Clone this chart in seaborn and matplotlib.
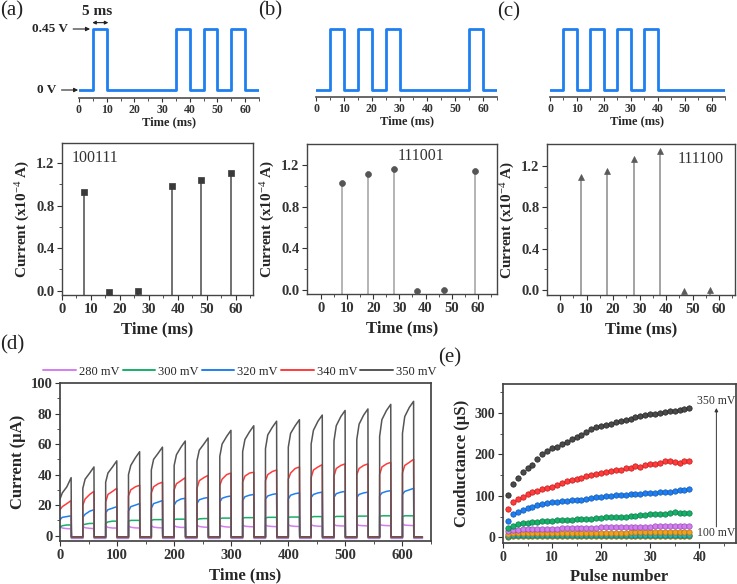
import numpy as np
import pandas as pd
import matplotlib
matplotlib.use("Agg")
import matplotlib.pyplot as plt
import seaborn as sns

# ---------------- data ----------------
codes = ["100111", "111001", "111100"]
wave_end = 65

a_time = [7.7, 16.4, 26.4, 38.0, 48.0, 58.3]
a_cur = [0.93, -0.01, 0.0, 0.985, 1.04, 1.105]
b_time = [8.0, 18.1, 28.0, 36.9, 47.0, 58.8]
b_cur = [1.03, 1.115, 1.16, -0.01, 0.0, 1.145]
c_time = [7.9, 17.9, 27.9, 37.9, 46.9, 56.6]
c_cur = [1.09, 1.155, 1.27, 1.345, -0.01, 0.0]

d_labels = ["280 mV", "300 mV", "320 mV", "340 mV", "350 mV"]
d_colors = ["#d27ef0", "#16b06a", "#1f7ff0", "#ff3b3b", "#555555"]
pulse_starts = [0, 40, 80, 120, 160, 200, 240, 280, 320, 360, 400, 440, 480, 520, 560, 600]
pulse_width = 20
sample_offsets = [0, 4, 12, 19.5]   # times within a pulse where values were read
d_off = [-1.8, -1.2, -1.0, -1.0, -0.8]
d_280 = [[6, 5, 4.6, 4.5], [6, 5.2, 4.8, 4.6], [6.3, 5.4, 5, 5], [6.4, 5.5, 5.1, 5], [6.5, 5.6, 5.2, 5.1],
         [6.6, 5.8, 5.4, 5.4], [6.8, 6, 5.6, 5.5], [6.9, 6.1, 5.7, 5.6], [7, 6.2, 5.9, 5.8], [7, 6.3, 6, 5.9],
         [7.1, 6.4, 6.1, 6], [7.2, 6.5, 6.2, 6.1], [7.3, 6.6, 6.4, 6.3], [7.4, 6.7, 6.5, 6.4], [7.5, 6.8, 6.6, 6.5],
         [7.6, 6.9, 6.7, 6.6]]
d_300 = [[5.5, 6.5, 7, 7], [7, 7.5, 8, 8], [8, 9, 9.5, 9.5], [9.5, 10, 10, 10], [10, 10.5, 10.5, 10.5],
         [10.5, 10.8, 10.8, 10.8], [10.5, 11, 11.2, 11.2], [11, 11.5, 11.5, 11.5], [11.5, 11.8, 11.8, 11.8],
         [11.5, 12, 12, 12], [12, 12.2, 12.2, 12.2], [12, 12.5, 12.5, 12.5], [12, 12.6, 12.6, 12.6],
         [12.5, 12.8, 12.8, 12.8], [12.5, 13, 13, 13], [12.5, 13, 13, 13]]
d_320 = [[10.5, 12, 12.5, 13], [12, 14, 16, 17], [15, 17, 18, 19], [16, 19, 20, 21], [18, 21, 22, 23],
         [20, 22.5, 24, 24.5], [21, 23.5, 24.5, 25], [22, 24.5, 25.5, 26], [23, 25.5, 26.5, 27],
         [24, 26, 27, 27.5], [24, 26.5, 27.5, 28], [25, 27, 28, 28.5], [25, 27.5, 28.5, 29],
         [25, 27, 28, 28.5], [26, 28, 29, 29.5], [27, 29, 30, 31]]
d_340 = [[17, 19, 21, 23], [20, 24, 27, 29], [22, 27, 29, 31], [26, 30, 32, 33], [28, 32, 34, 35],
         [30, 34, 36, 38], [31, 36, 38, 39.5], [33, 37, 40, 41], [35, 39, 41, 41.5], [36, 40, 42, 43],
         [37, 41, 44, 45], [38, 43, 45, 46.5], [39, 44, 46, 47], [40, 44, 46, 47], [40, 45, 47, 48],
         [41, 46, 48, 50]]
d_350 = [[24, 28, 32, 38], [31, 37, 41, 45], [35, 41, 45, 49], [40, 46, 51, 55], [43, 50, 54, 58],
         [46, 53, 58, 62], [49, 56, 60, 64], [52, 60, 65, 69], [55, 63, 68, 72], [57, 66, 71, 75],
         [58, 67, 72, 76], [60, 69, 75, 79], [62, 72, 78, 82], [63, 73, 79, 83], [65, 76, 82, 86],
         [67, 78, 84, 88]]
d_series = [d_280, d_300, d_320, d_340, d_350]

pulse_number = list(range(1, 39))
e_350 = [102, 128, 142, 158, 168, 175, 188, 200, 207, 216, 219, 226, 231, 236, 243, 248, 254, 262, 265, 268,
         271, 273, 279, 280, 283, 286, 290, 292, 294, 297, 297, 300, 302, 304, 306, 308, 310, 311]
e_340 = [69, 85, 93, 98, 104, 108, 112, 116, 120, 122, 127, 131, 135, 138, 141, 144, 147, 150, 152, 154,
         157, 160, 162, 163, 166, 167, 172, 169, 174, 176, 178, 180, 183, 184, 181, 179, 183, 183]
e_320 = [40, 55, 60, 66, 70, 74, 77, 80, 82, 84, 86, 87, 88, 89, 90, 91, 93, 94, 96, 98,
         99, 100, 101, 102, 103, 104, 104, 105, 106, 106, 107, 108, 109, 110, 112, 113, 115, 116]
e_300 = [22, 28, 32, 34, 35, 36, 37, 38, 39, 40, 41, 41, 42, 42, 43, 44, 45, 45, 46, 47,
         48, 48, 49, 50, 50, 51, 52, 53, 54, 55, 56, 57, 57, 58, 60, 59, 58, 59]
e_280 = [15, 17, 18, 19, 19, 20, 20, 20, 21, 21, 21, 22, 22, 22, 22, 23, 23, 23, 23, 24,
         24, 24, 24, 24, 25, 25, 25, 25, 25, 25, 26, 26, 26, 26, 27, 27, 27, 28]
e_250 = [8, 9, 9, 9, 10, 10, 10, 10, 10, 10, 10, 10, 11, 11, 11, 11, 11, 11, 11, 11,
         11, 11, 11, 11, 11, 12, 12, 12, 12, 12, 12, 12, 12, 12, 12, 12, 12, 12]
e_200 = [4, 5, 5, 5, 5, 5, 5, 5, 6, 6, 6, 6, 6, 6, 6, 6, 6, 6, 6, 6,
         6, 6, 6, 6, 6, 6, 6, 6, 6, 6, 6, 6, 6, 6, 6, 6, 6, 6]
e_100 = [1, 2, 2, 2, 2, 2, 2, 2, 2, 2, 2, 2, 2, 2, 2, 2, 2, 2, 2, 2,
         2, 2, 2, 2, 2, 2, 2, 2, 2, 2, 2, 2, 2, 2, 2, 2, 2, 2]
e_series = [e_100, e_200, e_250, e_280, e_300, e_320, e_340, e_350]
e_names = ["100 mV", "200 mV", "250 mV", "280 mV", "300 mV", "320 mV", "340 mV", "350 mV"]
e_colors = ["#a8a020", "#20b8c0", "#f0a21e", "#d27ef0", "#16b06a", "#1f7ff0", "#ff3b3b", "#4a4a4a"]
e_edges = ["#6e6a10", "#107880", "#b07010", "#9a48b8", "#0a7a48", "#0e56b0", "#c01818", "#222222"]

# ---------------- style ----------------
sns.set_theme(style="white")
plt.rcParams["font.family"] = ["Liberation Serif", "DejaVu Serif"]
plt.rcParams["mathtext.fontset"] = "custom"
plt.rcParams["mathtext.rm"] = "Liberation Serif"
plt.rcParams["mathtext.it"] = "Liberation Serif:italic"
plt.rcParams["mathtext.bf"] = "Liberation Serif:bold"
plt.rcParams["axes.edgecolor"] = "#444444"
plt.rcParams["xtick.color"] = "#333333"
plt.rcParams["ytick.color"] = "#333333"

W, H = 737, 584
fig = plt.figure(figsize=(W / 100, H / 100), dpi=100)


def box(l, t, r, b):
    return fig.add_axes([l / W, 1 - b / H, (r - l) / W, (b - t) / H])


def bold_ticks(ax, size):
    for lab in ax.get_xticklabels() + ax.get_yticklabels():
        lab.set_fontweight("bold")
        lab.set_fontsize(size)


WAVE_BLUE = "#1e7ff0"

# ---------------- waveforms ----------------
wave_boxes = [(79, 20, 259, 98), (316, 20, 497, 97), (550, 20, 725, 97)]
wave_axes = []
for code, bx in zip(codes, wave_boxes):
    ax = box(*bx)
    xs, ys = [0], [0]
    for i, bit in enumerate(code):
        if bit == "1":
            s = 5 + 10 * i
            xs += [s, s, s + 5, s + 5]
            ys += [0, 0.45, 0.45, 0]
    xs.append(wave_end)
    ys.append(0)
    dfw = pd.DataFrame({"t": xs, "v": ys})
    sns.lineplot(data=dfw, x="t", y="v", ax=ax, sort=False, estimator=None,
                 color=WAVE_BLUE, lw=2.0)
    ax.set_xlim(0, 65)
    top = bx[1]
    bottom = bx[3]
    ppu = 61 / 0.45
    ax.set_ylim(-(bottom - 90) / ppu, 0.45 + (29 - top) / ppu)
    for s in ["left", "top", "right"]:
        ax.spines[s].set_visible(False)
    ax.spines["bottom"].set_color("#555555")
    ax.set_yticks([])
    ax.set_xticks(range(0, 61, 10))
    ax.set_xticks(range(5, 66, 10), minor=True)
    ax.tick_params(axis="x", which="major", direction="out", length=3, width=0.8, pad=1.5, bottom=True)
    ax.tick_params(axis="x", which="minor", direction="out", length=2, width=0.6, bottom=True)
    ax.set_xlabel("Time (ms)", fontsize=9, fontweight="bold", labelpad=0)
    ax.set_ylabel("")
    bold_ticks(ax, 8.5)
    wave_axes.append(ax)

wa = wave_axes[0]
wa.annotate("0.45 V", xy=(4.0, 0.45), xytext=(-3.8, 0.45), ha="right", va="center",
            fontsize=9.5, fontweight="bold", annotation_clip=False,
            arrowprops=dict(arrowstyle="-|>", color="#222222", lw=0.8, mutation_scale=6,
                            shrinkA=1, shrinkB=0))
wa.annotate("0 V", xy=(-0.3, 0), xytext=(-8.0, 0), ha="right", va="center",
            fontsize=9.5, fontweight="bold", annotation_clip=False,
            arrowprops=dict(arrowstyle="-|>", color="#222222", lw=0.8, mutation_scale=6,
                            shrinkA=1, shrinkB=0))
wa.annotate("", xy=(4.8, 0.497), xytext=(10.6, 0.497), annotation_clip=False,
            arrowprops=dict(arrowstyle="<|-|>", color="#222222", lw=0.8, mutation_scale=5,
                            shrinkA=0, shrinkB=0))
wa.text(6.6, 0.578, "5 ms", ha="center", va="center", fontsize=11, fontweight="bold")

# ---------------- stem plots ----------------
stem_specs = [
    ((62, 143, 253, 295), (0, 66), (-0.04, 1.39), a_time, a_cur, "s", "#3a3a3a", "#4a4a4a", 14,
     "100111", (0.05, 0.9), "left"),
    ((307, 144, 497, 294), (-5.3, 67.3), (-0.038, 1.40), b_time, b_cur, "o", "#555555", "#a0a0a0", 18,
     "111001", (0.6, 0.92), "center"),
    ((547, 144, 735, 295), (-4.9, 66), (-0.048, 1.413), c_time, c_cur, "^", "#5a5a5a", "#8a8a8a", 18,
     "111100", (0.82, 0.9), "center"),
]
for bx, xl, yl, tt, cc, mk, mcol, scol, ms, code, tpos, tha in stem_specs:
    ax = box(*bx)
    ax.set_xlim(*xl)
    ax.set_ylim(*yl)
    ax.vlines(tt, yl[0], cc, color=scol, lw=1.1, zorder=2)
    dfs = pd.DataFrame({"t": tt, "c": cc})
    sns.scatterplot(data=dfs, x="t", y="c", ax=ax, marker=mk, s=ms, color=mcol,
                    edgecolor=mcol, linewidth=0.5, zorder=3)
    ax.set_xticks(range(0, 61, 10))
    ax.set_xticks(range(5, 66, 10), minor=True)
    ax.set_yticks([0.0, 0.4, 0.8, 1.2])
    ax.set_yticks([0.2, 0.6, 1.0], minor=True)
    ax.set_yticklabels(["0.0", "0.4", "0.8", "1.2"])
    ax.tick_params(which="major", direction="out", length=3.5, width=0.8, pad=2,
                   bottom=True, left=True)
    ax.tick_params(which="minor", direction="out", length=2, width=0.6, bottom=True, left=True)
    for s in ax.spines.values():
        s.set_linewidth(1.0)
    ax.set_xlabel("Time (ms)", fontsize=12, fontweight="bold", labelpad=4)
    ax.set_ylabel("Current (x10$^{\\mathrm{-4}}$ A)", fontsize=11, fontweight="bold", labelpad=3)
    bold_ticks(ax, 10.5)
    ax.text(tpos[0], tpos[1], code, transform=ax.transAxes, ha=tha, va="center",
            fontsize=11.5, color="#333333")

# ---------------- (d) ----------------
rows = []
for name, ser, off in zip(d_labels, d_series, d_off):
    for k, (t0, vals) in enumerate(zip(pulse_starts, ser)):
        if k > 0:
            rows.append((name, t0, off))
        for dt, v in zip(sample_offsets, vals):
            rows.append((name, t0 + dt, v))
        rows.append((name, t0 + pulse_width, off))
    rows.append((name, 635, off))
dfd = pd.DataFrame(rows, columns=["series", "time", "current"])
axd = box(60, 383, 431, 541)
sns.lineplot(data=dfd, x="time", y="current", hue="series", hue_order=d_labels,
             palette=d_colors, sort=False, estimator=None, lw=1.1, ax=axd)
axd.set_xlim(0, 635)
axd.set_ylim(-3.5, 100)
axd.set_xticks(range(0, 601, 100))
axd.set_xticks(range(50, 651, 100), minor=True)
axd.set_yticks(range(0, 101, 20))
axd.set_yticks(range(10, 101, 20), minor=True)
axd.tick_params(which="major", direction="out", length=3.5, width=0.8, pad=2, bottom=True, left=True)
axd.tick_params(which="minor", direction="out", length=2, width=0.6, bottom=True, left=True)
axd.set_xlabel("Time (ms)", fontsize=12, fontweight="bold", labelpad=4)
axd.set_ylabel("Current (μA)", fontsize=12, fontweight="bold", labelpad=3)
bold_ticks(axd, 10.5)
leg = axd.legend(loc="lower center", bbox_to_anchor=(0.485, 0.995), ncol=5, frameon=False,
                 fontsize=9, handlelength=2.6, handletextpad=0.25, columnspacing=0.25,
                 borderaxespad=0.1)
for h in leg.get_lines():
    h.set_linewidth(1.4)

# ---------------- (e) ----------------
axe = box(503, 384, 736, 543)
for name, ser, col, ec in zip(e_names, e_series, e_colors, e_edges):
    dfe = pd.DataFrame({"pulse": pulse_number, "g": ser})
    sns.scatterplot(data=dfe, x="pulse", y="g", ax=axe, s=15, color=col, edgecolor=ec,
                    linewidth=0.5, zorder=3)
axe.set_xlim(0, 47.5)
axe.set_ylim(-14, 370)
axe.set_xticks(range(0, 41, 10))
axe.set_xticks(range(5, 46, 10), minor=True)
axe.set_yticks([0, 100, 200, 300])
axe.set_yticks([50, 150, 250, 350], minor=True)
axe.tick_params(which="major", direction="out", length=3.5, width=0.8, pad=2, bottom=True, left=True)
axe.tick_params(which="minor", direction="out", length=2, width=0.6, bottom=True, left=True)
axe.set_xlabel("Pulse number", fontsize=12, fontweight="bold", labelpad=4)
axe.set_ylabel("Conductance (μS)", fontsize=12, fontweight="bold", labelpad=3)
bold_ticks(axe, 10)
axe.annotate("", xy=(43.5, 312), xytext=(43.5, 25),
             arrowprops=dict(arrowstyle="-|>", color="#333333", lw=0.7, mutation_scale=5,
                             shrinkA=0, shrinkB=0))
axe.text(43.4, 329, "350 mV", ha="center", va="center", fontsize=8.5, color="#333333")
axe.text(43.4, 11, "100 mV", ha="center", va="center", fontsize=8.5, color="#333333")

# ---------------- panel labels ----------------
for lab, x, y in [("(a)", 0, 11), ("(b)", 258, 11), ("(c)", 497, 12), ("(d)", 0, 345), ("(e)", 438, 358)]:
    fig.text(x / W, 1 - y / H, lab, ha="left", va="center", fontsize=15, color="#222222")

fig.savefig("out.png", dpi=100)
